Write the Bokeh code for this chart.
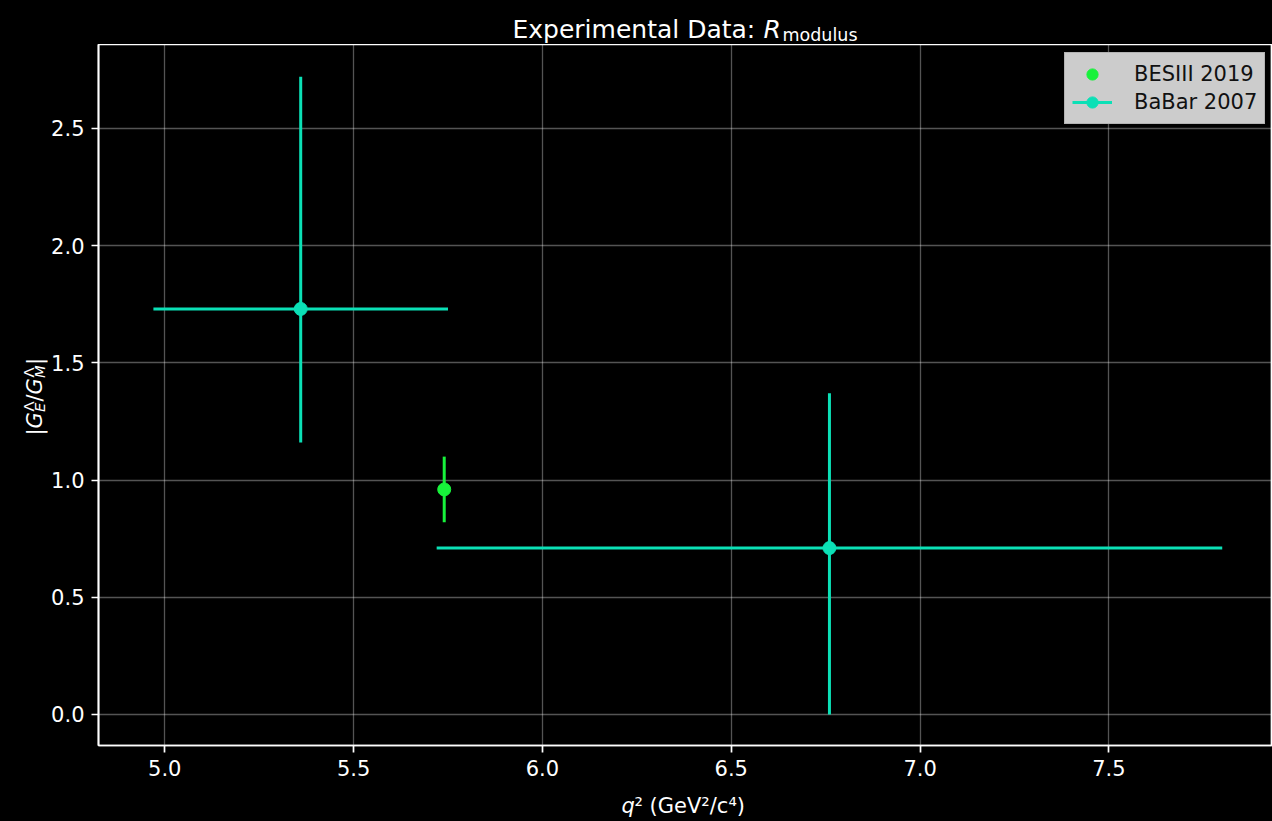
import math
from bokeh.plotting import figure
from bokeh.models import (ColumnDataSource, Legend, LegendItem,
                          FixedTicker, PrintfTickFormatter, Range1d)
from bokeh.layouts import column, row
from bokeh.core.properties import value
from bokeh.embed import file_html
from bokeh.resources import INLINE

# ---------------- data ----------------
besiii_q2 = [5.74]
besiii_R = [0.96]
besiii_R_err = [0.14]

babar_q2 = [5.36, 6.76]
babar_q2_err = [0.39, 1.04]
babar_R = [1.73, 0.71]
babar_R_err_lo = [0.57, 0.71]
babar_R_err_hi = [0.99, 0.66]

x_ticks = [5.0, 5.5, 6.0, 6.5, 7.0, 7.5]
y_ticks = [0.0, 0.5, 1.0, 1.5, 2.0, 2.5]

series_names = ["BESIII 2019", "BaBar 2007"]

# ---------------- style ----------------
GREEN = "#17f23b"
TEAL = "#0be0b6"
FONT = "DejaVu Sans"
BG = "black"

X0, X1 = 4.8246, 7.9331
Y0, Y1 = -0.1323, 2.858
W, H = 1272, 821
# frame in page pixels
FL, FR, FT, FB = 97, 1272, 44, 745
YLAB_W = 48
MAIN_BOTTOM = 787          # page y where the main figure ends


def blank_fig(width, height, xr, yr, border_bottom=0):
    # no border fill: avoids the white clear-rect seams of the SVG backend
    f = figure(width=width, height=height, x_range=Range1d(*xr), y_range=Range1d(*yr),
               output_backend="svg", toolbar_location=None,
               x_axis_type=None, y_axis_type=None,
               min_border=0, min_border_left=0, min_border_right=0,
               min_border_top=0, min_border_bottom=border_bottom,
               background_fill_color=BG, border_fill_color=None,
               outline_line_color=None)
    f.grid.visible = False
    return f


def tx(f, text, x, y, size, style="normal", angle=0.0):
    f.text(x=[x], y=[y], text=[text], text_font=value(FONT),
           text_font_size=value(size), text_font_style=style,
           text_color="white", text_align="left", text_baseline="alphabetic",
           angle=angle)


# ---------------- main plot ----------------
p = figure(width=W - YLAB_W, height=MAIN_BOTTOM - FT,
           x_range=Range1d(X0, X1), y_range=Range1d(Y0, Y1),
           output_backend="svg", toolbar_location=None,
           min_border_left=FL - YLAB_W, min_border_right=0,
           min_border_top=0, min_border_bottom=MAIN_BOTTOM - FB,
           background_fill_color=BG, border_fill_color=BG,
           outline_line_color="white", outline_line_width=1.7)

for ax in (p.xaxis, p.yaxis):
    ax.axis_line_color = "white"
    ax.axis_line_width = 1.7
    ax.major_tick_line_color = "white"
    ax.major_tick_line_width = 1.7
    ax.major_tick_out = 7
    ax.major_tick_in = 0
    ax.minor_tick_out = 0
    ax.minor_tick_in = 0
    ax.major_label_text_color = "white"
    ax.major_label_text_font = FONT
    ax.major_label_text_font_size = "21px"
    ax.major_label_standoff = 7
    ax.formatter = PrintfTickFormatter(format="%.1f")

p.xaxis.ticker = FixedTicker(ticks=x_ticks, minor_ticks=[])
p.yaxis.ticker = FixedTicker(ticks=y_ticks, minor_ticks=[])

p.grid.grid_line_color = "white"
p.grid.grid_line_alpha = 0.33
p.grid.grid_line_width = 1.3

src_bes = ColumnDataSource(dict(
    x=besiii_q2, y=besiii_R,
    yl=[v - e for v, e in zip(besiii_R, besiii_R_err)],
    yh=[v + e for v, e in zip(besiii_R, besiii_R_err)],
))
src_bab = ColumnDataSource(dict(
    x=babar_q2, y=babar_R,
    xl=[v - e for v, e in zip(babar_q2, babar_q2_err)],
    xh=[v + e for v, e in zip(babar_q2, babar_q2_err)],
    yl=[v - e for v, e in zip(babar_R, babar_R_err_lo)],
    yh=[v + e for v, e in zip(babar_R, babar_R_err_hi)],
))

p.segment(x0="x", y0="yl", x1="x", y1="yh", source=src_bes,
          line_color=GREEN, line_width=3)
bes_pt = p.scatter("x", "y", source=src_bes, size=13, marker="circle",
                   fill_color=GREEN, line_color=GREEN)

bab_h = p.segment(x0="xl", y0="y", x1="xh", y1="y", source=src_bab,
                  line_color=TEAL, line_width=3)
p.segment(x0="x", y0="yl", x1="x", y1="yh", source=src_bab,
          line_color=TEAL, line_width=3)
bab_pt = p.scatter("x", "y", source=src_bab, size=13, marker="circle",
                   fill_color=TEAL, line_color=TEAL)

legend = Legend(items=[
    LegendItem(label=series_names[0], renderers=[bes_pt]),
    LegendItem(label=series_names[1], renderers=[bab_h, bab_pt]),
], location=(1063 - FL, FB - 124))
legend.padding = 7
legend.spacing = 0
legend.glyph_width = 40
legend.glyph_height = 28
legend.label_height = 28
legend.label_standoff = 22
legend.label_text_font = FONT
legend.label_text_font_size = "21px"
legend.label_text_color = "#111111"
legend.background_fill_color = "#cccccc"
legend.background_fill_alpha = 1.0
legend.border_line_color = "#9a9a9a"
legend.border_line_width = 1.5
p.add_layout(legend)

# ---------------- title strip (page pixel coordinates) ----------------
t = blank_fig(W, FT, (0, W), (FT, 0))
tx(t, "Experimental Data: ", 512, 28.5, "25px")
tx(t, "R", 763, 28.5, "25px", style="italic")
tx(t, "modulus", 782, 34, "17.5px")

# ---------------- y-label strip (frame aligned with the main frame) ----------------
yl = blank_fig(YLAB_W, MAIN_BOTTOM - FT, (0, YLAB_W), (FB, FT),
               border_bottom=MAIN_BOTTOM - FB)
A = math.pi / 2
tx(yl, "|", 34, 435, "21px", angle=A)
tx(yl, "G", 34, 428, "21px", style="italic", angle=A)
tx(yl, "E", 39, 411.5, "14.7px", style="italic", angle=A)
tx(yl, "\u039b", 28, 411, "14.7px", angle=A)
tx(yl, "/", 34, 401, "21px", angle=A)
tx(yl, "G", 34, 394, "21px", style="italic", angle=A)
tx(yl, "M", 39, 377.5, "14.7px", style="italic", angle=A)
tx(yl, "\u039b", 28, 377, "14.7px", angle=A)
tx(yl, "|", 34, 364.5, "21px", angle=A)

# ---------------- x-label strip ----------------
xl = blank_fig(W, H - MAIN_BOTTOM, (0, W), (H, MAIN_BOTTOM))
tx(xl, "q", 621, 805.5, "21px", style="italic")
tx(xl, "\u00b2 (GeV\u00b2/c\u2074)", 634, 805.5, "21px")

layout = column(t, row(yl, p, spacing=0), xl, spacing=0)

html = file_html(layout, INLINE)
html = html.replace("</head>", "<style>html, body { background-color: #000; }</style></head>", 1)
open("out.html", "w").write(html)
